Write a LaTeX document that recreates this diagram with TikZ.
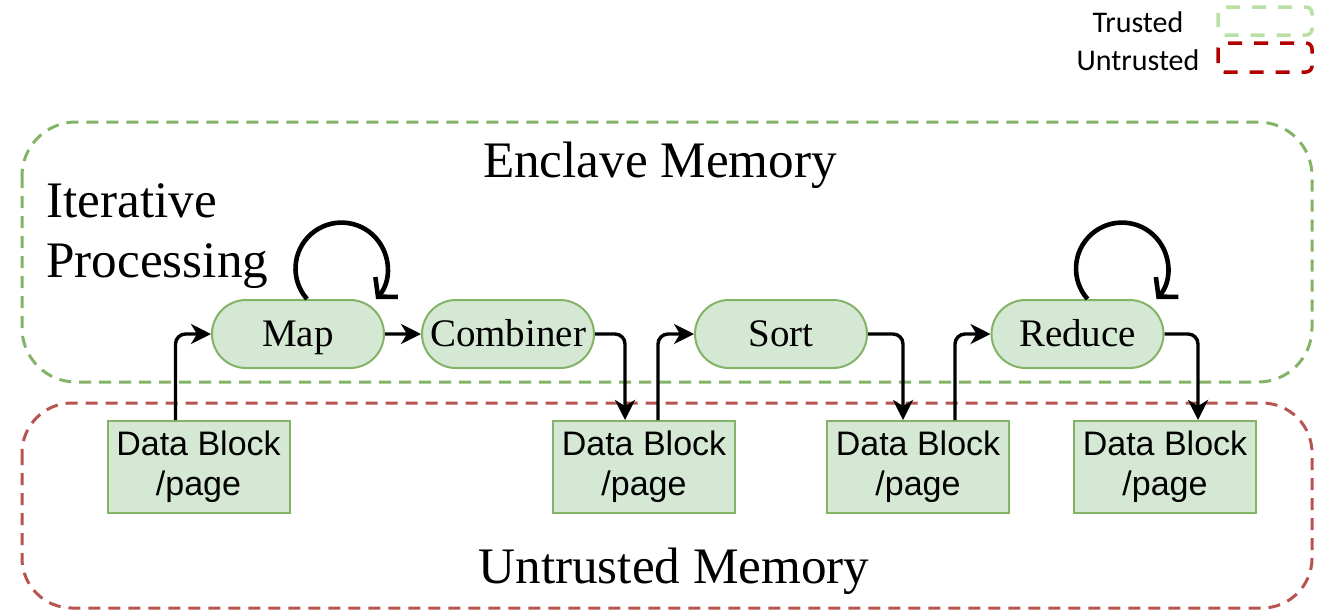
\documentclass[tikz,border=0pt]{standalone}
\usepackage{fontspec}
\setmainfont{Liberation Serif}
\setsansfont{Liberation Sans}
\newfontfamily\legendfont{Carlito}
\usetikzlibrary{arrows.meta}
\usetikzlibrary{positioning}
\usetikzlibrary{shapes.misc}
\definecolor{stagefill}{HTML}{D5E8D4}
\definecolor{stageline}{HTML}{82B366}
\definecolor{untrustline}{HTML}{B85450}
\definecolor{legendgreen}{HTML}{B9E0A5}
\definecolor{legendred}{HTML}{B20000}

\begin{document}
\begin{tikzpicture}[x=0.5pt, y=0.5pt]
      \tikzset{
         stage/.style = {
            rounded rectangle, draw=stageline, fill=stagefill, line width=1pt,
            minimum width=86pt, minimum height=34pt, inner sep=0pt,
            text height=12pt, text depth=0pt,
            font=\fontsize{19.5}{22}\selectfont
         },
         block/.style = {
            rectangle, draw=stageline, fill=stagefill, line width=1pt,
            minimum width=91pt, minimum height=46pt, inner sep=0pt, align=center,
            font=\sffamily\fontsize{17}{20}\selectfont
         },
         region/.style = {dash pattern=on 6pt off 4pt, line width=1.5pt},
         legendbox/.style = {dash pattern=on 7pt off 6pt, line width=1.75pt, rounded corners=3pt},
         legendtext/.style = {anchor=base, inner sep=0pt, font=\legendfont\fontsize{15}{18}\selectfont},
         title/.style = {inner sep=0pt, font=\fontsize{25.6}{30}\selectfont},
         flow/.style = {-{Stealth[length=10pt, width=10pt, inset=3pt]}, line width=1.7pt, rounded corners=5pt},
         again/.style = {-{Straight Barb[length=6.5pt, width=15pt]}, line width=2.3pt}
      }
      \useasboundingbox (0,0) rectangle (1321,-612);
      \draw[region, draw=stageline, rounded corners=27pt] (22,-122) rectangle (1312,-382);
      \draw[region, draw=untrustline, rounded corners=25pt] (22,-403) rectangle (1312,-608);
      \node[title, anchor=base] (enclave) at (660,-177) {Enclave Memory};
      \node[title, anchor=base] (untrusted) at (674,-583) {Untrusted Memory};
      \node[title, anchor=base west, align=left] (iter) at (46,-277) {Iterative\\Processing};
      \node[legendtext] (trusted) at (1138,-32) {Trusted};
      \node[legendtext] (untrustedkey) at (1138,-70) {Untrusted};
      \draw[legendbox, draw=legendgreen] (1218,-7) rectangle (1312,-35);
      \draw[legendbox, draw=legendred] (1218,-43) rectangle (1312,-72);
      \node[stage] (map) at (298,-334) {Map};
      \node[stage, right=18pt of map] (combiner) {Combiner};
      \node[stage] (sort) at (781,-334) {Sort};
      \node[stage] (reduce) at (1077.5,-334) {Reduce};
      \node[block] (db1) at (198.5,-467) {Data Block\\/page};
      \node[block] (db2) at (644,-467) {Data Block\\/page};
      \node[block] (db3) at (918,-467) {Data Block\\/page};
      \node[block] (db4) at (1165,-467) {Data Block\\/page};
      \draw[flow] ([xshift=-11.5pt]db1.north) |- (map.west);
      \draw[flow] (map) -- (combiner);
      \draw[flow] (combiner.east) -| ([xshift=-9.5pt]db2.north);
      \draw[flow] ([xshift=7pt]db2.north) |- (sort.west);
      \draw[flow] (sort.east) -| ([xshift=-7.5pt]db3.north);
      \draw[flow] ([xshift=18.5pt]db3.north) |- (reduce.west);
      \draw[flow] (reduce.east) -| ([xshift=16.5pt]db4.north);
      \draw[again] ([xshift=4.5pt]map.north) arc[start angle=221.4, end angle=-41.4, radius=23pt];
      \draw[again] ([xshift=5pt]reduce.north) arc[start angle=221.4, end angle=-41.4, radius=23pt];
    \end{tikzpicture}
\end{document}
